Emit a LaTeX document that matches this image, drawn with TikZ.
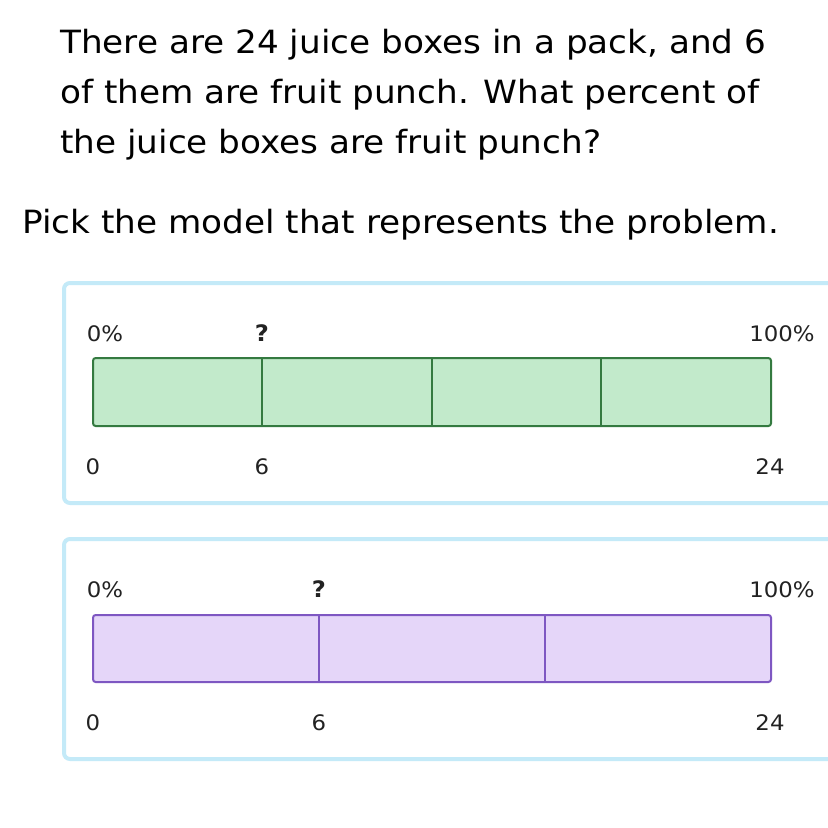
\documentclass[tikz,border=0pt]{standalone}
\usepackage{fontspec}
\setmainfont[FakeStretch=1.07]{DejaVu Sans}

\definecolor{panelblue}{RGB}{196,234,248}
\definecolor{greenfill}{RGB}{194,234,203}
\definecolor{greenline}{RGB}{52,122,64}
\definecolor{purplefill}{RGB}{229,214,249}
\definecolor{purpleline}{RGB}{126,87,194}
\definecolor{labelgray}{RGB}{34,34,34}

\begin{document}
\begin{tikzpicture}[x=0.75pt,y=0.75pt,yscale=-1,xscale=1,
  qtext/.style={anchor=base west,inner sep=0pt,font=\fontsize{24}{30}\selectfont},
  lbl/.style={anchor=base,inner sep=0pt,text=labelgray,font=\fontsize{16}{20}\selectfont},
  panel/.style={draw=panelblue,line width=3pt,rounded corners=4.5pt,fill=white}]
\clip (0,0) rectangle (828,828);
\fill[white] (0,0) rectangle (828,828);

% Text Node
\node[qtext] (lineone) at (60,53) {There are 24 juice boxes in a pack, and 6};
% Text Node
\node[qtext] (linetwo) at (60,103) {of them are fruit punch. What percent of};
% Text Node
\node[qtext] (linethree) at (60,153) {the juice boxes are fruit punch?};
% Text Node
\node[qtext] (pick) at (22,233) {Pick the model that represents the problem.};

%Rounded Rect [id:panelone]
\draw[panel] (64,283) rectangle (850,503);
%Rounded Rect [id:paneltwo]
\draw[panel] (64,539) rectangle (850,759);

%Shape: Rectangle [id:bargreen]
\draw[draw=greenline,fill=greenfill,line width=1.5pt,rounded corners=2pt] (93,358) rectangle (771,426);
\foreach \x in {262,432,601}
  \draw[greenline,line width=1.5pt] (\x,358) -- (\x,426);

%Shape: Rectangle [id:barpurple]
\draw[draw=purpleline,fill=purplefill,line width=1.5pt,rounded corners=2pt] (93,615) rectangle (771,682);
\foreach \x in {319,545}
  \draw[purpleline,line width=1.5pt] (\x,615) -- (\x,682);

% Text Node
\node[lbl] (pctzeroA) at (105,341) {0\%};
% Text Node
\node[lbl,font=\fontsize{17}{20}\selectfont\bfseries] (askA) at (262,341) {?};
% Text Node
\node[lbl] (pctfullA) at (782,341) {100\%};
% Text Node
\node[lbl] (zeroA) at (93,474) {0};
% Text Node
\node[lbl] (sixA) at (262,474) {6};
% Text Node
\node[lbl] (totalA) at (770,474) {24};

% Text Node
\node[lbl] (pctzeroB) at (105,597) {0\%};
% Text Node
\node[lbl,font=\fontsize{17}{20}\selectfont\bfseries] (askB) at (319,597) {?};
% Text Node
\node[lbl] (pctfullB) at (782,597) {100\%};
% Text Node
\node[lbl] (zeroB) at (93,730) {0};
% Text Node
\node[lbl] (sixB) at (319,730) {6};
% Text Node
\node[lbl] (totalB) at (770,730) {24};

\end{tikzpicture}
\end{document}
